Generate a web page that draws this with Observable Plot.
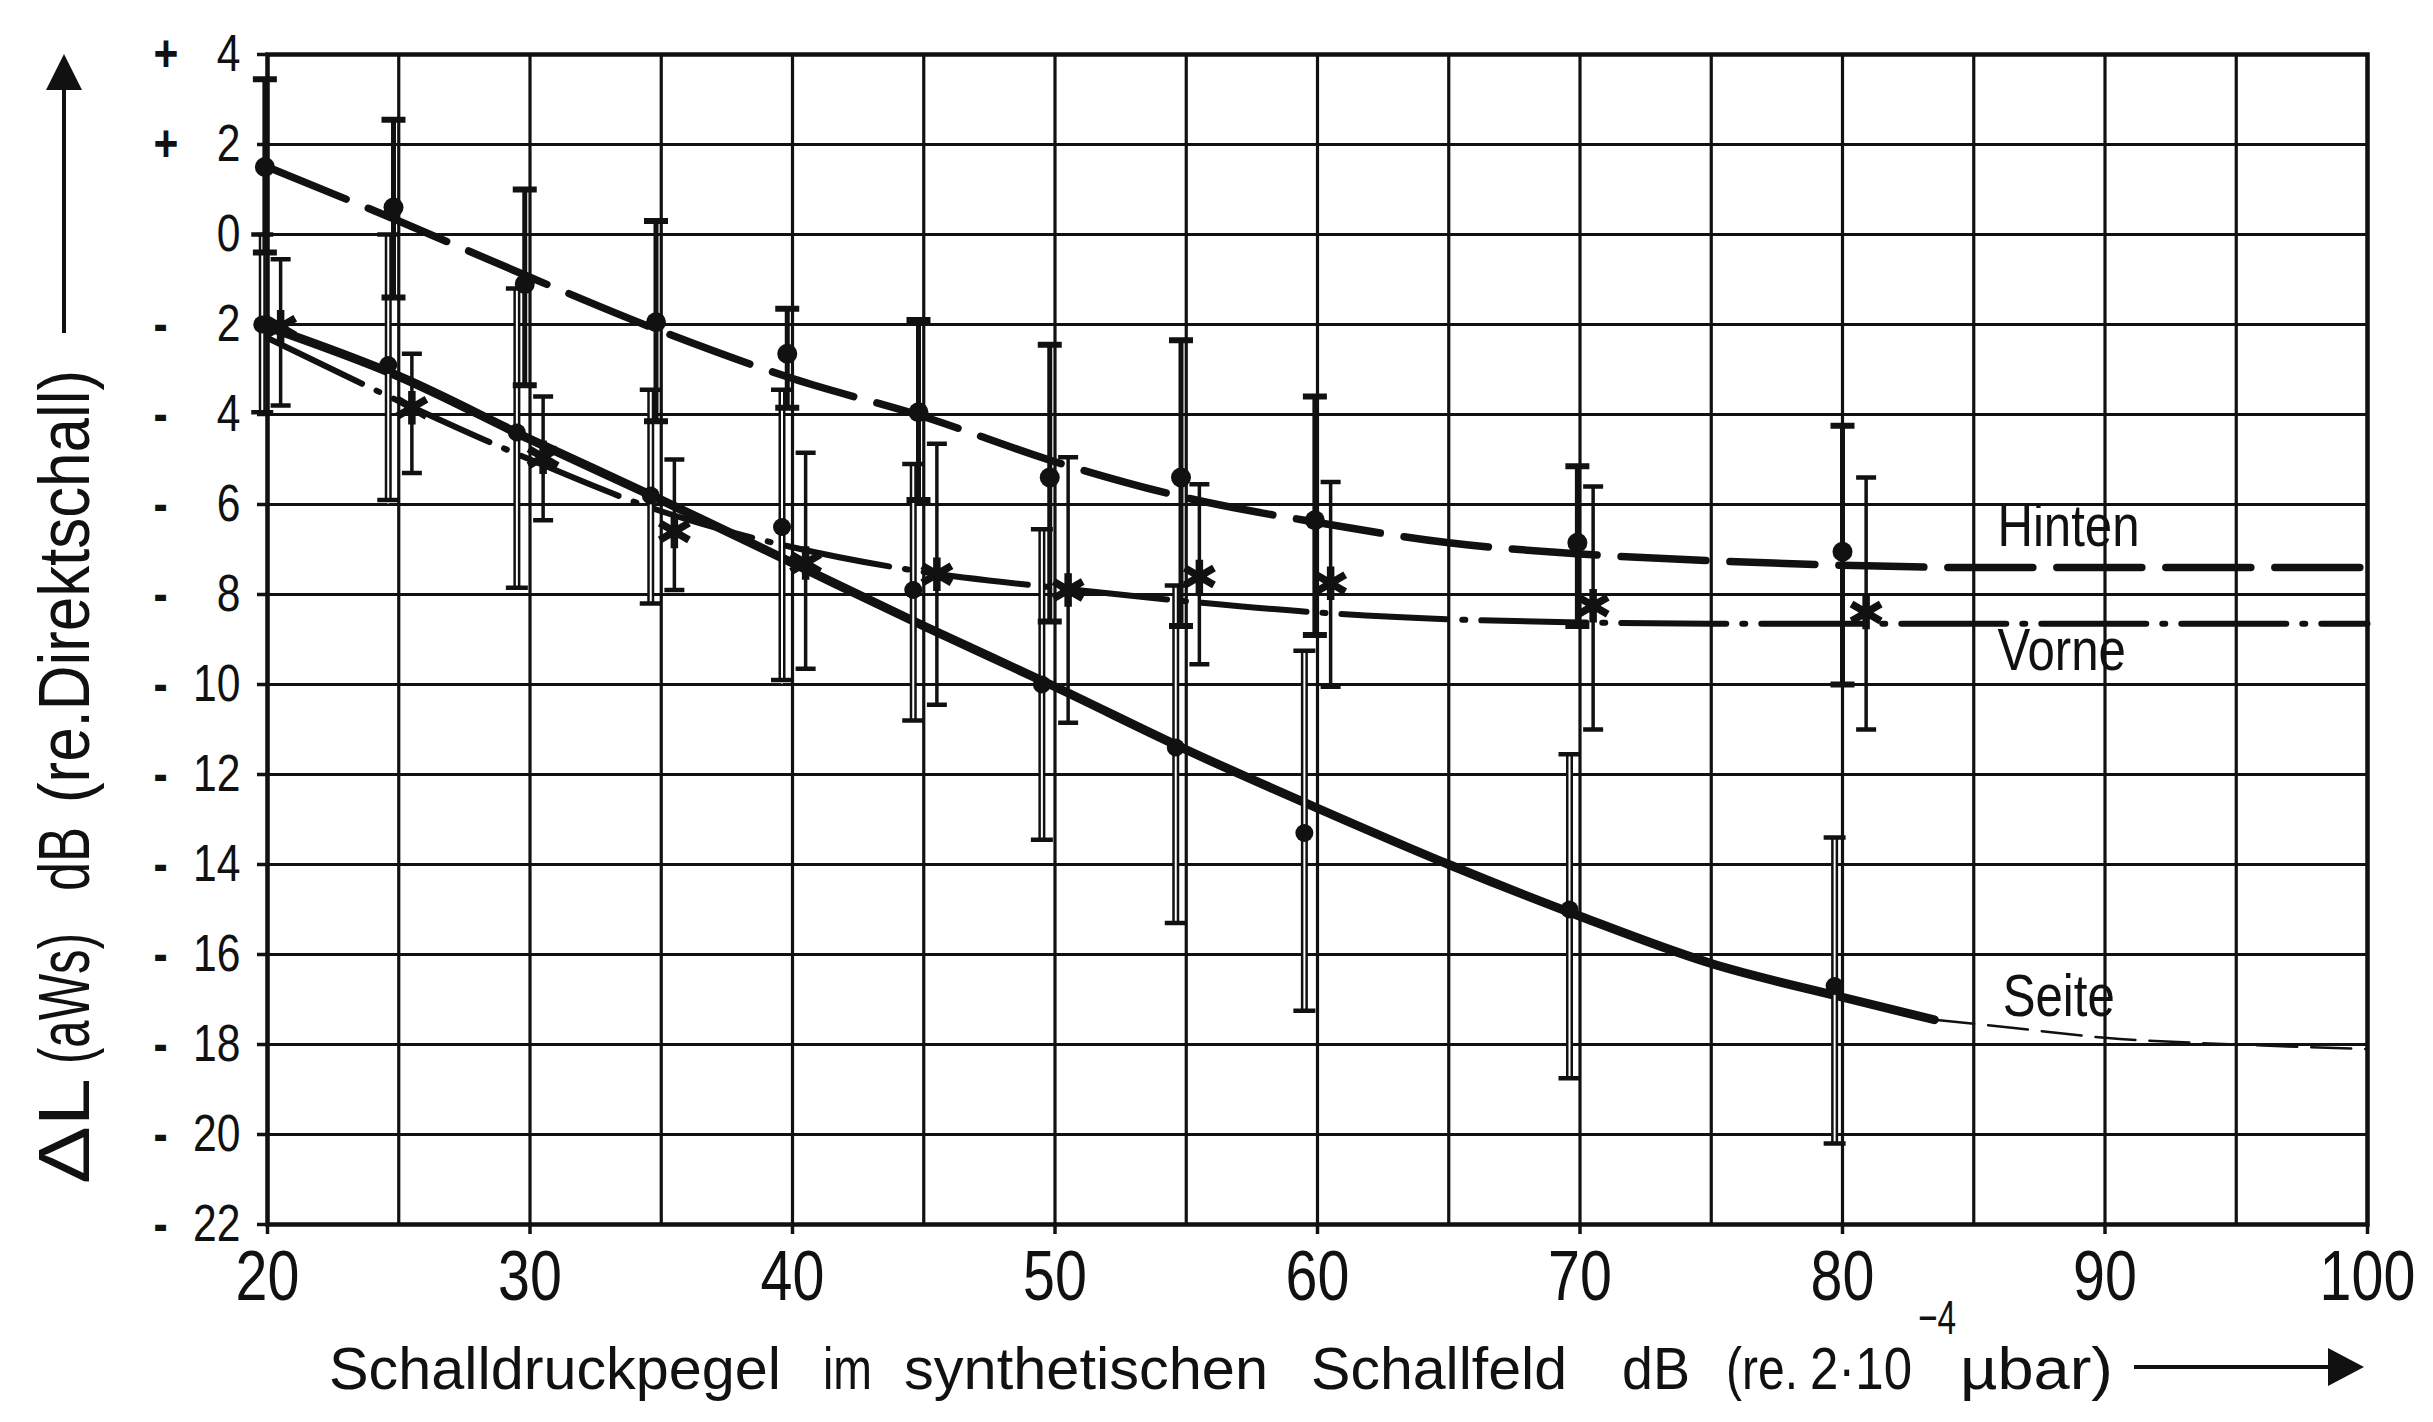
<!DOCTYPE html>
<html><head><meta charset="utf-8">
<script src="https://cdn.jsdelivr.net/npm/d3@7"></script>
<script src="https://cdn.jsdelivr.net/npm/@observablehq/plot@0.6"></script>
<style>
html,body{margin:0;padding:0;background:#fff;}
#chart svg{display:block;}
</style>
</head><body><div id="chart"></div>
<script>
// ---------------- data ----------------
const xTicks = [20, 30, 40, 50, 60, 70, 80, 90, 100];
const xGridLines = [20, 25, 30, 35, 40, 45, 50, 55, 60, 65, 70, 75, 80, 85, 90, 95, 100];
const yTicks = [4, 2, 0, -2, -4, -6, -8, -10, -12, -14, -16, -18, -20, -22];

// Hinten (filled circles, dashed curve)
const hintenX    = [19.9, 24.8, 29.8, 34.8, 39.8, 44.8, 49.8, 54.8, 59.9, 69.9, 80.0];
const hintenMean = [1.5, 0.6, -1.1, -1.95, -2.65, -3.95, -5.4, -5.4, -6.35, -6.85, -7.05];
const hintenHigh = [3.45, 2.55, 1.0, 0.3, -1.65, -1.9, -2.45, -2.35, -3.6, -5.15, -4.25];
const hintenLow  = [-0.4, -1.4, -3.35, -4.15, -3.85, -5.9, -8.6, -8.7, -8.9, -8.7, -10.0];
const hintenCurveX = [20, 25, 30, 35, 40, 45, 50, 55, 60, 65, 70, 75, 80, 85, 90, 100];
const hintenCurveY = [1.5, 0.3, -0.95, -2.15, -3.2, -4.05, -5.05, -5.85, -6.4, -6.85, -7.1, -7.25, -7.35, -7.4, -7.4, -7.4];

// Vorne (asterisks, dash-dot curve)
const vorneX    = [20.5, 25.5, 30.5, 35.5, 40.5, 45.5, 50.5, 55.5, 60.5, 70.5, 80.9];
const vorneMean = [-2.05, -3.85, -4.95, -6.6, -7.3, -7.55, -7.9, -7.6, -7.75, -8.25, -8.4];
const vorneHigh = [-0.55, -2.65, -3.6, -5.0, -4.85, -4.65, -4.95, -5.55, -5.5, -5.6, -5.4];
const vorneLow  = [-3.8, -5.3, -6.35, -7.9, -9.65, -10.45, -10.85, -9.55, -10.05, -11.0, -11.0];
const vorneCurveX = [20, 25, 30, 35, 40, 45, 50, 55, 60, 65, 70, 75, 80, 90, 100];
const vorneCurveY = [-2.3, -3.7, -5.0, -6.15, -6.95, -7.5, -7.85, -8.15, -8.4, -8.55, -8.62, -8.65, -8.65, -8.65, -8.65];

// Seite (filled circles, solid curve + thin dashed extension)
const seiteX    = [19.8, 24.6, 29.5, 34.6, 39.6, 44.6, 49.5, 54.6, 59.5, 69.6, 79.7];
const seiteMean = [-2.0, -2.9, -4.4, -5.8, -6.5, -7.9, -10.0, -11.4, -13.3, -15.0, -16.7];
const seiteHigh = [0.0, 0.0, -1.2, -3.45, -3.45, -5.1, -6.55, -7.8, -9.25, -11.55, -13.4];
const seiteLow  = [-3.95, -5.9, -7.85, -8.2, -9.9, -10.8, -13.45, -15.3, -17.25, -18.75, -20.2];
const seiteCurveX = [20, 25, 30, 35, 40, 45, 50, 55, 60, 65, 70, 75, 80, 83.5];
const seiteCurveY = [-2.05, -3.15, -4.55, -5.9, -7.3, -8.7, -10.05, -11.45, -12.75, -14.0, -15.15, -16.2, -16.95, -17.45];
const seiteTailX = [83.5, 86, 90, 95, 100];
const seiteTailY = [-17.45, -17.6, -17.85, -18.0, -18.1];

// curve labels
const seriesNames = ["Hinten", "Vorne", "Seite"];
const seriesLabelX = [85.9, 85.9, 86.1];
const seriesLabelY = [-6.5, -9.25, -16.95];

// ---------------- helpers ----------------
function fontAvailable(name) {
  const c = document.createElement("canvas").getContext("2d");
  const s = "mmmmmmmmmmlli1020WQ";
  c.font = "72px monospace"; const a = c.measureText(s).width;
  c.font = `72px '${name}', monospace`; const b = c.measureText(s).width;
  return Math.abs(a - b) > 0.5;
}
let FONT, K;
if (fontAvailable("Liberation Sans Narrow")) { FONT = "'Liberation Sans Narrow', 'Liberation Sans', sans-serif"; K = 1; }
else { FONT = "'Liberation Sans', 'DejaVu Sans', sans-serif"; K = 0.82; }

const INK = "#111";
const zip = (xs, ys, lo, hi) => xs.map((x, i) => ({x, y: ys[i], lo: lo ? lo[i] : undefined, hi: hi ? hi[i] : undefined}));
const hinten = zip(hintenX, hintenMean, hintenLow, hintenHigh);
const vorne = zip(vorneX, vorneMean, vorneLow, vorneHigh);
const seite = zip(seiteX, seiteMean, seiteLow, seiteHigh);
const hintenCurve = zip(hintenCurveX, hintenCurveY);
const vorneCurve = zip(vorneCurveX, vorneCurveY);
const seiteCurve = zip(seiteCurveX, seiteCurveY);
const seiteTail = zip(seiteTailX, seiteTailY);
const labels = seriesNames.map((name, i) => ({name, x: seriesLabelX[i], y: seriesLabelY[i]}));

// horizontal cap symbol for error bars (half-width = r)
const capSymbol = {draw(ctx, size) { const w = Math.sqrt(size / Math.PI); ctx.moveTo(-w, 0); ctx.lineTo(w, 0); }};
const signOf = d => d > 0 ? "+" : d < 0 ? "-" : "";

const chart = Plot.plot({
  width: 2433, height: 1422,
  marginLeft: 267, marginRight: 66, marginTop: 54, marginBottom: 198,
  style: {background: "#fff", color: INK, fontFamily: FONT, overflow: "visible"},
  x: {domain: [20, 100]},
  y: {domain: [-22, 4]},
  marks: [
    Plot.ruleX(xGridLines, {stroke: INK, strokeWidth: 3.2}),
    Plot.ruleY(yTicks, {stroke: INK, strokeWidth: 3.2}),
    Plot.frame({stroke: INK, strokeWidth: 4.5}),

    // curves
    Plot.line(hintenCurve, {x: "x", y: "y", curve: "monotone-x", stroke: INK, strokeWidth: 7.5, strokeDasharray: "85,24"}),
    Plot.line(vorneCurve, {x: "x", y: "y", curve: "monotone-x", stroke: INK, strokeWidth: 6, strokeDasharray: "105,16,3,16", strokeLinecap: "round"}),
    Plot.line(seiteCurve, {x: "x", y: "y", curve: "monotone-x", stroke: INK, strokeWidth: 9}),
    Plot.line(seiteTail, {x: "x", y: "y", curve: "monotone-x", stroke: INK, strokeWidth: 2.5, strokeDasharray: "40,14"}),

    // error bars: Seite (hollow), Vorne (thin), Hinten (thick)
    Plot.ruleX(seite, {x: "x", y1: "lo", y2: "hi", stroke: INK, strokeWidth: 7}),
    Plot.ruleX(seite, {x: "x", y1: "lo", y2: "hi", stroke: "#fff", strokeWidth: 2, insetTop: 4, insetBottom: 4}),
    Plot.dot(seite, {x: "x", y: "hi", symbol: capSymbol, r: 11, stroke: INK, strokeWidth: 4.5, fill: "none"}),
    Plot.dot(seite, {x: "x", y: "lo", symbol: capSymbol, r: 11, stroke: INK, strokeWidth: 4.5, fill: "none"}),

    Plot.ruleX(vorne, {x: "x", y1: "lo", y2: "hi", stroke: INK, strokeWidth: 3.5}),
    Plot.dot(vorne, {x: "x", y: "hi", symbol: capSymbol, r: 10, stroke: INK, strokeWidth: 4.5, fill: "none"}),
    Plot.dot(vorne, {x: "x", y: "lo", symbol: capSymbol, r: 10, stroke: INK, strokeWidth: 4.5, fill: "none"}),

    Plot.ruleX(hinten, {x: "x", y1: "lo", y2: "hi", stroke: INK, strokeWidth: 5}),
    Plot.dot(hinten, {x: "x", y: "hi", symbol: capSymbol, r: 12, stroke: INK, strokeWidth: 6, fill: "none"}),
    Plot.dot(hinten, {x: "x", y: "lo", symbol: capSymbol, r: 12, stroke: INK, strokeWidth: 6, fill: "none"}),

    // markers
    Plot.dot(seite, {x: "x", y: "y", r: 9, fill: INK, stroke: "none"}),
    Plot.dot(hinten, {x: "x", y: "y", r: 10, fill: INK, stroke: "none"}),
    Plot.dot(vorne, {x: "x", y: "y", symbol: "asterisk", r: 16, stroke: INK, strokeWidth: 7.5, fill: "none"}),

    // curve labels
    Plot.text(labels, {x: "x", y: "y", text: "name", textAnchor: "start", fontSize: 60, fill: INK}),

    // axes
    Plot.axisX({ticks: xTicks, tickFormat: d => String(d), tickSize: 10, tickPadding: 16, fontSize: 70, strokeWidth: 3.5, label: null}),
    Plot.axisY({ticks: yTicks, tickFormat: d => String(Math.abs(d)), tickSize: 10, tickPadding: 17, fontSize: 52, strokeWidth: 3.5, label: null}),
    Plot.axisY({ticks: yTicks, tickFormat: signOf, tickSize: 0, tickPadding: 0, textAnchor: "start", dx: -114, fontSize: 52, fontWeight: "bold", label: null})
  ]
});

document.getElementById("chart").appendChild(chart);
const svg = d3.select(chart);

// condense Plot-generated text when no narrow face exists
if (K !== 1) {
  chart.querySelectorAll("text").forEach(t => {
    const tr = t.getAttribute("transform") || "";
    t.setAttribute("transform", (tr + ` scale(${K},1)`).trim());
  });
}

// ---------------- axis titles ----------------
const titles = svg.append("g").attr("fill", INK).attr("text-anchor", "start").style("font-family", FONT);
function piece(g, str, x0, x1, baseline, size) {
  return g.append("text").attr("x", x0).attr("y", baseline).attr("text-anchor", "start")
    .attr("textLength", x1 - x0).attr("lengthAdjust", "spacingAndGlyphs")
    .attr("font-size", size).text(str);
}
// x title
piece(titles, "Schalldruckpegel", 329, 781, 1389, 60);
piece(titles, "im", 823, 872, 1389, 60);
piece(titles, "synthetischen", 904, 1268, 1389, 60);
piece(titles, "Schallfeld", 1311, 1567, 1389, 60);
piece(titles, "dB", 1622, 1690, 1389, 60);
piece(titles, "(re.", 1726, 1798, 1389, 60);
piece(titles, "2·10", 1810, 1912, 1389, 60);
piece(titles, "−4", 1918, 1956, 1334, 48);
piece(titles, "µbar)", 1960, 2113, 1389, 60);
titles.append("line").attr("x1", 2134).attr("x2", 2335).attr("y1", 1367).attr("y2", 1367)
  .attr("stroke", INK).attr("stroke-width", 4);
titles.append("path").attr("d", "M2364,1367 L2328,1348 L2328,1386 Z").attr("fill", INK);

// y title (rotated, reads bottom to top)
const yt = titles.append("g").attr("transform", "translate(89,0) rotate(-90)");
piece(yt, "ΔL", -1184, -1078, 0, 72);
piece(yt, "(aWs)", -1064, -933, 0, 72);
piece(yt, "dB", -891, -827, 0, 72);
piece(yt, "(re.Direktschall)", -803, -370, 0, 72);
titles.append("line").attr("x1", 64).attr("x2", 64).attr("y1", 333).attr("y2", 84)
  .attr("stroke", INK).attr("stroke-width", 4);
titles.append("path").attr("d", "M64,54 L46,90 L82,90 Z").attr("fill", INK);
</script>
</body></html>
